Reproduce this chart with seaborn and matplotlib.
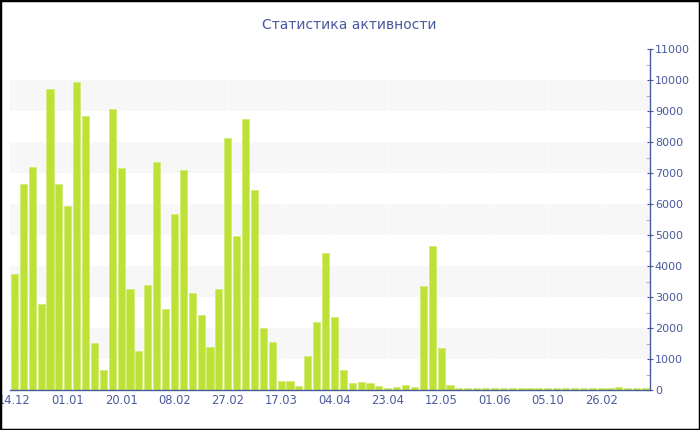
import numpy as np
import pandas as pd
import matplotlib
matplotlib.use("Agg")
import matplotlib.pyplot as plt
from matplotlib.patches import Rectangle
from matplotlib.ticker import MultipleLocator
import seaborn as sns

titulo = 'Статистика активности'

# values per bar
valores = [3740, 6630, 7180, 2780, 9700, 6630, 5950, 9950, 8850, 1520,
           635, 9050, 7150, 3260, 1250, 3390, 7340, 2600, 5680, 7090,
           3140, 2420, 1390, 3250, 8130, 4970, 8740, 6460, 2010, 1550,
           280, 300, 130, 1100, 2180, 4420, 2370, 635, 225, 250,
           215, 120, 55, 85, 150, 100, 3370, 4660, 1345, 160,
           70, 65, 70, 60, 60, 55, 55, 55, 55, 55,
           55, 55, 55, 55, 55, 55, 55, 60, 110, 55,
           55, 55]
etiquetas = ['14.12', '01.01', '20.01', '08.02', '27.02', '17.03',
             '04.04', '23.04', '12.05', '01.06', '05.10', '26.02']
paso = 6

df = pd.DataFrame({'idx': np.arange(len(valores)), 'valor': valores})

sns.set_style("white")
plt.rcParams['font.family'] = ['DejaVu Sans']

azul = '#4a5a9e'
verde = '#bde134'

fig = plt.figure(figsize=(7, 4.3), dpi=100)
ax = fig.add_axes([10/700, 40/430, 640/700, 341/430])

for k in range(1, 11, 2):
    ax.axhspan(1000*k, 1000*(k+1), color='#f7f7f7', zorder=0, lw=0)

sns.barplot(data=df, x='idx', y='valor', color=verde, width=0.8,
            saturation=1, edgecolor='#d2ec78', linewidth=0.6, ax=ax, zorder=2)

for xt in range(0, len(valores), paso):
    ax.axvline(xt, color='white', lw=0.6, alpha=0.6, zorder=1)

ax.set_xlim(-0.5, len(valores) - 0.5)
ax.set_ylim(0, 11000)
ax.set_xticks(range(0, len(valores), paso))
ax.set_xticklabels(etiquetas)
ax.set_xlabel('')
ax.set_ylabel('')

ax.yaxis.tick_right()
ax.yaxis.set_major_locator(MultipleLocator(1000))
ax.yaxis.set_minor_locator(MultipleLocator(500))
for s in ['top', 'left']:
    ax.spines[s].set_visible(False)
ax.spines['right'].set_color(azul)
ax.spines['bottom'].set_color(azul)
ax.spines['right'].set_linewidth(1)
ax.spines['bottom'].set_linewidth(1)
ax.tick_params(axis='y', which='major', direction='inout', length=5,
               color=azul, labelcolor=azul, labelsize=8, pad=1, right=True, left=False)
ax.tick_params(axis='y', which='minor', direction='in', length=3,
               color='#9aa3c8', right=True, left=False)
ax.tick_params(axis='x', which='major', direction='inout', length=4,
               color='#8890b0', labelcolor=azul, labelsize=8.3, pad=1)
ax.set_facecolor('white')

fig.text(349/700, 1 - 25/430, titulo, ha='center', va='center',
         color=azul, fontsize=10)

fig.patches.append(Rectangle((0, 0), 1, 1, transform=fig.transFigure,
                             fill=False, edgecolor='black', lw=2.5, zorder=10))

fig.savefig('out.png', dpi=100)
